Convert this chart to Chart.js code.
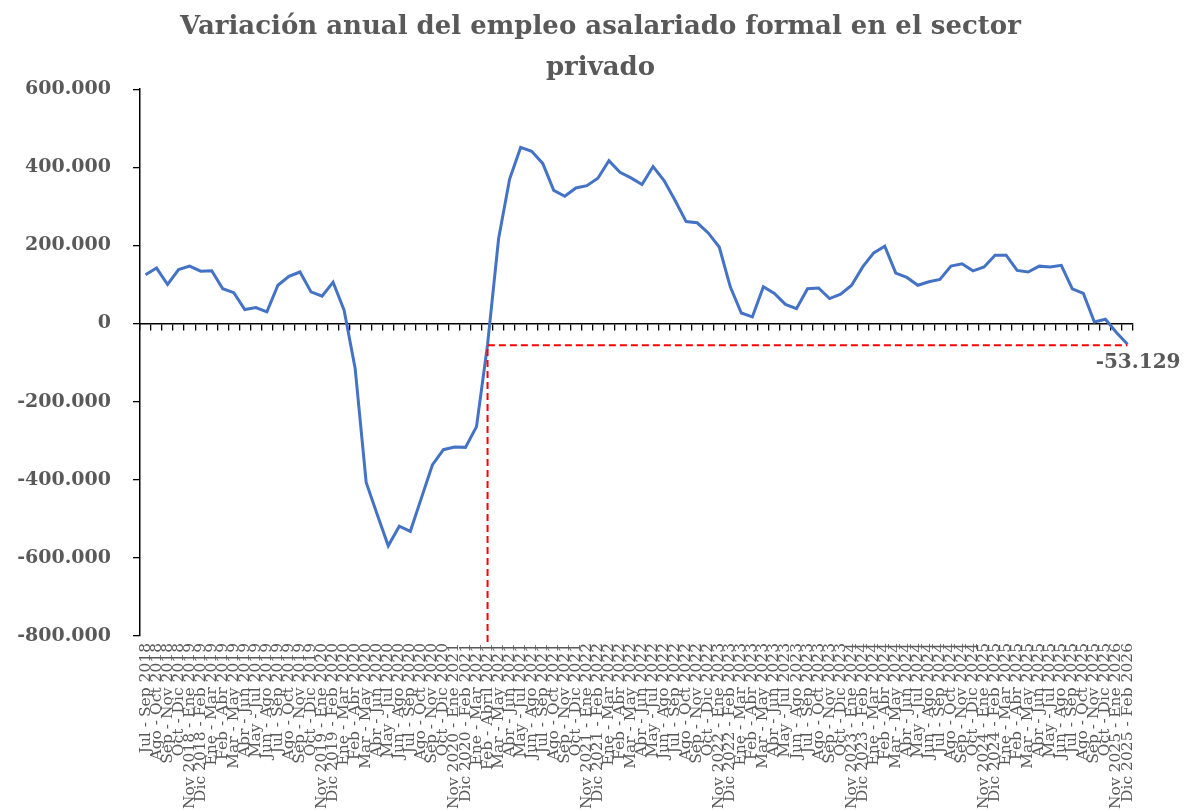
<!DOCTYPE html>
<html>
<head>
<meta charset="utf-8">
<title>Empleo asalariado formal</title>
<script src="https://cdn.jsdelivr.net/npm/chart.js@4/dist/chart.umd.min.js"></script>
<style>
  body { margin: 0; background: #fff; }
  #wrap { width: 1187px; height: 811px; }
</style>
</head>
<body>
<div id="wrap"><canvas id="empleoChart"></canvas></div>
<script>
// trimestres moviles
const periodos = [
  'Jul - Sep 2018', 'Ago - Oct 2018', 'Sep - Nov 2018', 'Oct - Dic 2018', 'Nov 2018 - Ene 2019', 'Dic 2018 - Feb 2019',
  'Ene - Mar 2019', 'Feb - Abr 2019', 'Mar - May 2019', 'Abr - Jun 2019', 'May - Jul 2019', 'Jun - Ago 2019',
  'Jul - Sep 2019', 'Ago - Oct 2019', 'Sep - Nov 2019', 'Oct - Dic 2019', 'Nov 2019 - Ene 2020', 'Dic 2019 - Feb 2020',
  'Ene - Mar 2020', 'Feb - Abr 2020', 'Mar - May 2020', 'Abr - Jun 2020', 'May - Jul 2020', 'Jun - Ago 2020',
  'Jul - Sep 2020', 'Ago - Oct 2020', 'Sep - Nov 2020', 'Oct - Dic 2020', 'Nov 2020 - Ene 2021', 'Dic 2020 - Feb 2021',
  'Ene - Mar 2021', 'Feb - Abril 2021', 'Mar - May 2021', 'Abr - Jun 2021', 'May - Jul 2021', 'Jun - Ago 2021',
  'Jul - Sep 2021', 'Ago - Oct 2021', 'Sep - Nov 2021', 'Oct - Dic 2021', 'Nov 2021 - Ene 2022', 'Dic 2021 - Feb 2022',
  'Ene - Mar 2022', 'Feb - Abr 2022', 'Mar - May 2022', 'Abr - Jun 2022', 'May - Jul 2022', 'Jun - Ago 2022',
  'Jul - Sep 2022', 'Ago - Oct 2022', 'Sep - Nov 2022', 'Oct - Dic 2022', 'Nov 2022 - Ene 2023', 'Dic 2022 - Feb 2023',
  'Ene - Mar 2023', 'Feb - Abr 2023', 'Mar - May 2023', 'Abr - Jun 2023', 'May - Jul 2023', 'Jun - Ago 2023',
  'Jul - Sep 2023', 'Ago - Oct 2023', 'Sep - Nov 2023', 'Oct - Dic 2023', 'Nov 2023 - Ene 2024', 'Dic 2023 - Feb 2024',
  'Ene - Mar 2024', 'Feb - Abr 2024', 'Mar - May 2024', 'Abr - Jun 2024', 'May - Jul 2024', 'Jun - Ago 2024',
  'Jul - Sep 2024', 'Ago - Oct 2024', 'Sep - Nov 2024', 'Oct - Dic 2024', 'Nov 2024 - Ene 2025', 'Dic 2024 - Feb 2025',
  'Ene - Mar 2025', 'Feb - Abr 2025', 'Mar - May 2025', 'Abr - Jun 2025', 'May - Jul 2025', 'Jun - Ago 2025',
  'Jul - Sep 2025', 'Ago - Oct 2025', 'Sep - Nov 2025', 'Oct - Dic 2025', 'Nov 2025 - Ene 2026', 'Dic 2025 - Feb 2026'
];

// variacion anual (personas)
const variacion = [
  125000, 142000, 100000, 138000, 147000, 134000,
  135000, 89000, 79000, 36000, 41000, 30000,
  98000, 121000, 132000, 81000, 70000, 106000,
  34000, -115000, -407000, -489000, -569000, -519000,
  -532000, -447000, -362000, -323000, -316000, -317000,
  -264000, -54000, 217000, 370000, 451000, 441000,
  410000, 341000, 326000, 347000, 353000, 372000,
  417000, 387000, 373000, 356000, 402000, 366000,
  315000, 261000, 258000, 232000, 196000, 94000,
  27000, 17000, 94000, 77000, 49000, 38000,
  89000, 91000, 64000, 75000, 98000, 145000,
  181000, 198000, 129000, 118000, 98000, 107000,
  113000, 147000, 153000, 135000, 145000, 175000,
  175000, 136000, 132000, 147000, 145000, 149000,
  89000, 77000, 4000, 11000, -23000, -53129
];

const yTicks = [-800000, -600000, -400000, -200000, 0, 200000, 400000, 600000];
const periodoRef = 'Feb - Abril 2021';

const titulo = ['Variación anual del empleo asalariado formal en el sector', 'privado'];
const gris = '#595959';
const serif = "'DejaVu Serif', 'Liberation Serif', serif";

const miles = (v) => {
  const s = Math.abs(v).toString().replace(/\B(?=(\d{3})+(?!\d))/g, '.');
  return (v < 0 ? '-' : '') + s;
};

// linea roja punteada desde el periodo de referencia hasta el ultimo dato
const marcaUltimo = {
  id: 'marcaUltimo',
  afterDatasetsDraw(chart) {
    const {ctx, chartArea, scales} = chart;
    const last = variacion.length - 1;
    const iRef = periodos.indexOf(periodoRef);
    const xRef = scales.x.getPixelForValue(iRef);
    const xLast = scales.x.getPixelForValue(last);
    const yLast = scales.y.getPixelForValue(variacion[last]);

    ctx.save();
    ctx.strokeStyle = '#ff0000';
    ctx.lineWidth = 2;
    ctx.setLineDash([7, 4]);
    ctx.beginPath();
    ctx.moveTo(xRef, chartArea.bottom + 6);
    ctx.lineTo(xRef, yLast + 1);
    ctx.lineTo(xLast, yLast + 1);
    ctx.stroke();
    ctx.setLineDash([]);

    ctx.fillStyle = gris;
    ctx.font = "bold 20px " + serif;
    ctx.textAlign = 'right';
    ctx.textBaseline = 'middle';
    ctx.fillText(miles(variacion[last]), xLast + 53, yLast + 19);
    ctx.restore();
  }
};

const ctx = document.getElementById('empleoChart').getContext('2d');
const empleoChart = new Chart(ctx, {
  type: 'line',
  data: {
    labels: periodos,
    datasets: [{
      label: 'Variación anual',
      data: variacion,
      borderColor: '#4472c4',
      borderWidth: 3,
      pointRadius: 0,
      tension: 0,
      fill: false
    }]
  },
  options: {
    responsive: true,
    maintainAspectRatio: false,
    animation: false,
    layout: { padding: { left: 14, right: 0, top: 0, bottom: 0 } },
    plugins: {
      legend: { display: false },
      tooltip: { enabled: false },
      title: {
        display: true,
        text: titulo,
        color: gris,
        font: { family: serif, size: 26, weight: 'bold', lineHeight: 1.6 },
        padding: { top: 6, bottom: 0 }
      }
    },
    scales: {
      x: {
        type: 'category',
        position: 'bottom',
        offset: true,
        grid: { display: false, drawTicks: false },
        border: { display: false },
        ticks: {
          autoSkip: false,
          maxRotation: 90,
          minRotation: 90,
          padding: 7,
          color: gris,
          font: { family: serif, size: 15.5 }
        },
        afterFit: (scale) => { scale.height = 175; }
      },
      // eje cero con marcas entre categorias
      xCero: {
        type: 'category',
        axis: 'x',
        position: { y: 0 },
        offset: true,
        grid: { drawOnChartArea: false, drawTicks: true, tickLength: 6, offset: true, color: '#000', lineWidth: 1.3 },
        border: { display: true, color: '#000', width: 1.5 },
        ticks: { display: false, autoSkip: false }
      },
      y: {
        position: 'left',
        min: -800000,
        max: 600000,
        afterBuildTicks: (scale) => { scale.ticks = yTicks.map(v => ({ value: v })); },
        grid: { drawOnChartArea: false, drawTicks: true, tickLength: 7, color: '#000', lineWidth: 1.3 },
        border: { display: true, color: '#000', width: 1.5 },
        ticks: {
          padding: 22,
          color: gris,
          font: { family: serif, size: 19, weight: 'bold' },
          callback: (v) => miles(v)
        },
        afterFit: (scale) => { scale.width = 126; }
      },
      // espacio a la derecha
      yDer: {
        position: 'right',
        grid: { display: false },
        border: { display: false },
        ticks: { display: false },
        afterFit: (scale) => { scale.width = 54; }
      }
    }
  },
  plugins: [marcaUltimo]
});
</script>
</body>
</html>
